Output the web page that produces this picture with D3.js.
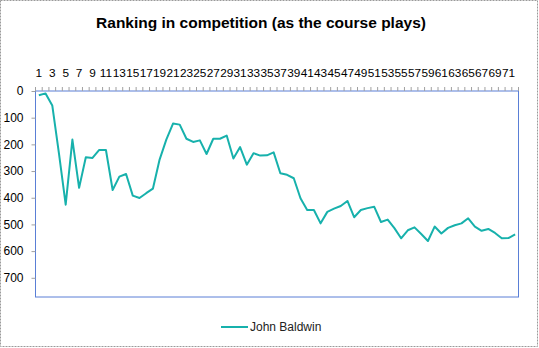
<!DOCTYPE html>
<html>
<head>
<meta charset="utf-8">
<script src="https://cdn.jsdelivr.net/npm/d3@7"></script>
<style>
  html, body { margin: 0; padding: 0; background: #fff; }
  svg { display: block; }
</style>
</head>
<body>
<svg id="chart" width="539" height="348"></svg>
<script>
const title = "Ranking in competition (as the course plays)";
const seriesName = "John Baldwin";
const holes = d3.range(1, 73);
const ranks = [16, 9, 54, 235, 426, 182, 363, 248, 251, 221,
               221, 371, 321, 311, 392, 401, 383, 366, 257, 182,
               122, 126, 179, 191, 185, 236, 179, 179, 167, 253,
               210, 276, 233, 242, 241, 230, 308, 314, 327, 402,
               446, 446, 496, 453, 441, 431, 412, 473, 446, 439,
               434, 491, 482, 514, 552, 522, 511, 536, 562, 508,
               534, 513, 503, 496, 477, 508, 524, 517, 532, 552,
               551, 537];
const yTicks = [0, 100, 200, 300, 400, 500, 600, 700];
const yMax = 772;

const svg = d3.select("#chart");
const W = 539, H = 348;
const plot = { left: 35.5, right: 518.5, top: 91, bottom: 297 };

// outer dashed border
svg.append("rect")
  .attr("x", 0.5).attr("y", 0.5).attr("width", W - 2).attr("height", H - 2)
  .attr("fill", "#fff").attr("stroke", "#9a9a9a").attr("stroke-dasharray", "2,1");

svg.append("text")
  .attr("x", 261).attr("y", 28)
  .attr("text-anchor", "middle")
  .attr("font-family", "Liberation Sans, Arial, sans-serif")
  .attr("font-weight", "bold").attr("font-size", 15.5)
  .attr("fill", "#000")
  .text(title);

const x = d3.scaleBand().domain(holes).range([plot.left, plot.right]);
const y = d3.scaleLinear().domain([0, yMax]).range([plot.top, plot.bottom]);

// plot border
svg.append("rect")
  .attr("x", plot.left).attr("y", plot.top)
  .attr("width", plot.right - plot.left).attr("height", plot.bottom - plot.top)
  .attr("fill", "none").attr("stroke", "#5a7fd6").attr("stroke-width", 1);

// x axis on top
const xAxis = d3.axisTop(x)
  .tickValues(holes.filter(d => d % 2 === 1))
  .tickSize(0).tickPadding(0);
const gx = svg.append("g").attr("transform", `translate(0,${plot.top - 14})`).call(xAxis);
gx.select(".domain").remove();
gx.selectAll("text")
  .attr("font-family", "Liberation Sans, Arial, sans-serif")
  .attr("font-size", 11.8).attr("fill", "#000").attr("dy", 0);

// x tick marks at category boundaries
const bounds = holes.map(d => x(d)).concat([plot.right]);
svg.append("g").selectAll("line").data(bounds).join("line")
  .attr("x1", d => d).attr("x2", d => d)
  .attr("y1", plot.top).attr("y2", plot.top - 4)
  .attr("stroke", "#a0a0a0").attr("stroke-width", 1);

// y axis
const yAxis = d3.axisLeft(y).tickValues(yTicks).tickSize(4).tickPadding(8);
const gy = svg.append("g").attr("transform", `translate(${plot.left},0)`).call(yAxis);
gy.select(".domain").remove();
gy.selectAll("line").attr("stroke", "#a0a0a0");
gy.selectAll("text")
  .attr("font-family", "Liberation Sans, Arial, sans-serif")
  .attr("font-size", 12).attr("fill", "#000");

// line
const line = d3.line()
  .x((d, i) => x(holes[i]) + x.bandwidth() / 2)
  .y(d => y(d));
svg.append("path")
  .datum(ranks)
  .attr("d", line)
  .attr("fill", "none")
  .attr("stroke", "#17b1ac")
  .attr("stroke-width", 2)
  .attr("stroke-linejoin", "round");

// legend
const lg = svg.append("g");
lg.append("line").attr("x1", 221).attr("x2", 248).attr("y1", 327).attr("y2", 327)
  .attr("stroke", "#17b1ac").attr("stroke-width", 2);
lg.append("text").attr("x", 250).attr("y", 331)
  .attr("font-family", "Liberation Sans, Arial, sans-serif")
  .attr("font-size", 12).attr("fill", "#222")
  .text(seriesName);
</script>
</body>
</html>
